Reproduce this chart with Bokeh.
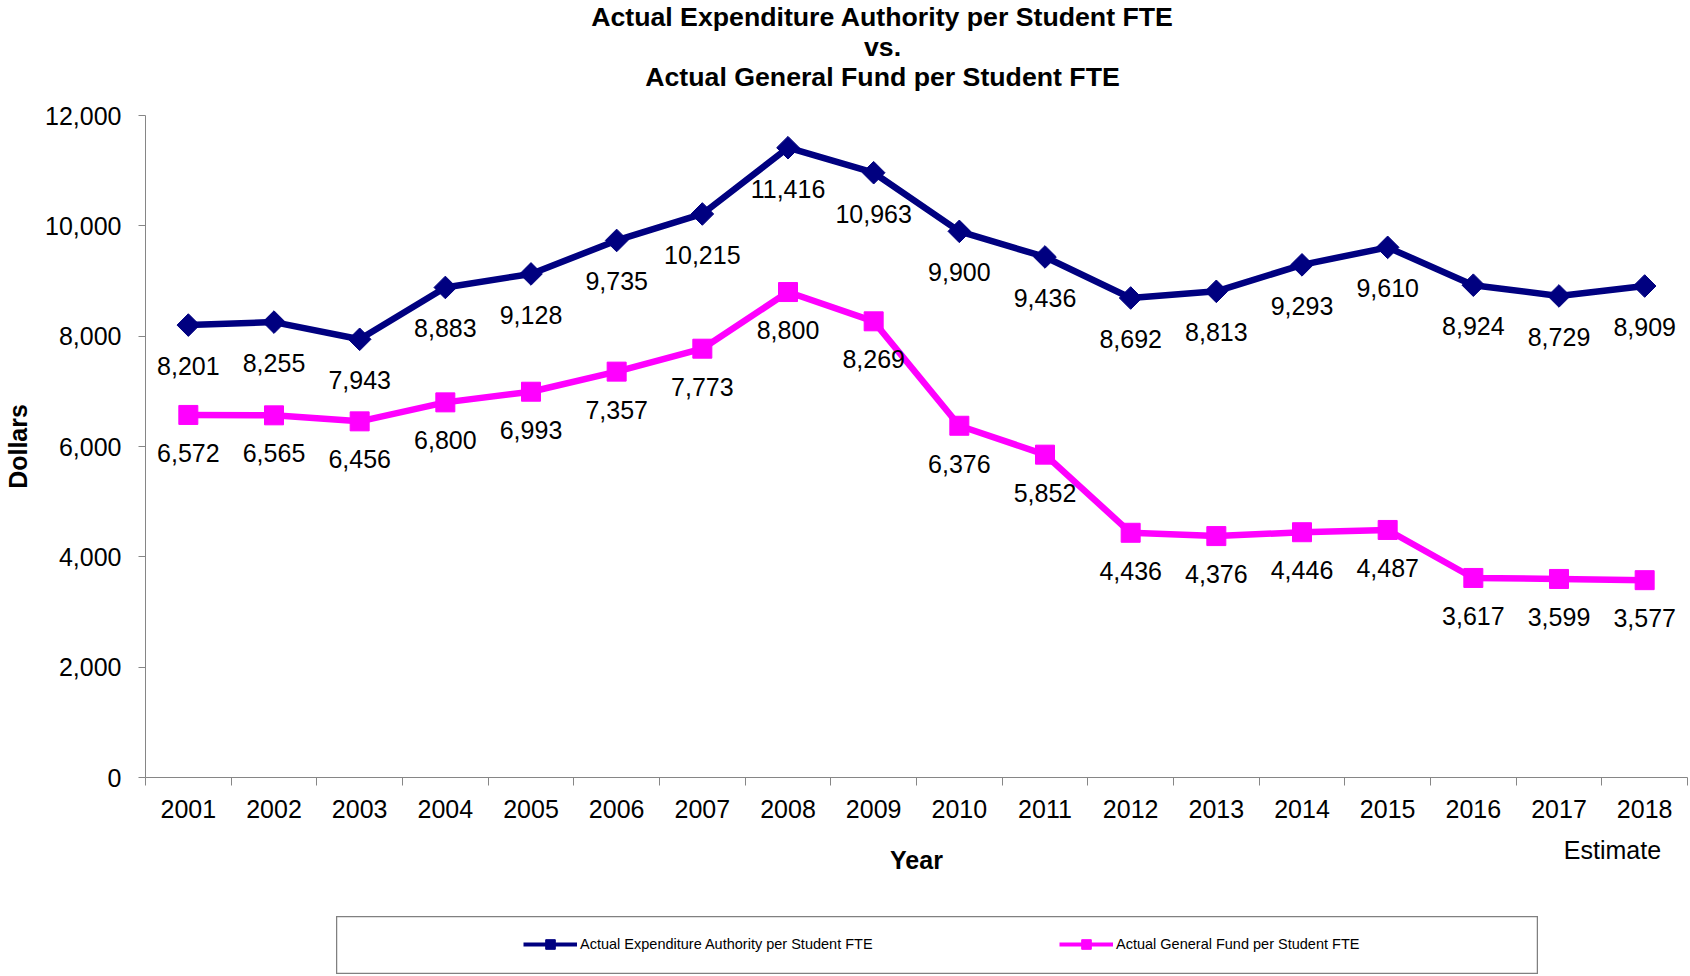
import numpy as np
from bokeh.plotting import figure
from bokeh.models import (ColumnDataSource, Range1d, FixedTicker, NumeralTickFormatter,
                          Legend, LegendItem, Spacer, LinearAxis)
from bokeh.layouts import column, row
from bokeh.core.properties import value
from bokeh.embed import file_html
from bokeh.resources import INLINE

years = [2001, 2002, 2003, 2004, 2005, 2006, 2007, 2008, 2009,
         2010, 2011, 2012, 2013, 2014, 2015, 2016, 2017, 2018]
expenditure = [8201, 8255, 7943, 8883, 9128, 9735, 10215, 11416, 10963,
               9900, 9436, 8692, 8813, 9293, 9610, 8924, 8729, 8909]
general_fund = [6572, 6565, 6456, 6800, 6993, 7357, 7773, 8800, 8269,
                6376, 5852, 4436, 4376, 4446, 4487, 3617, 3599, 3577]
y_ticks = [0, 2000, 4000, 6000, 8000, 10000, 12000]
title_lines = ["Actual Expenditure Authority per Student FTE", "vs.",
               "Actual General Fund per Student FTE"]
series_names = ["Actual Expenditure Authority per Student FTE",
                "Actual General Fund per Student FTE"]
estimate_note = "Estimate"

FONT = "Liberation Sans"
NAVY = "#000080"
MAGENTA = "#FF00FF"
AXIS = "#868686"
W = 1688
HDR_H = 100

src1 = ColumnDataSource(dict(x=years, y=expenditure, lab=[f"{v:,}" for v in expenditure]))
src2 = ColumnDataSource(dict(x=years, y=general_fund, lab=[f"{v:,}" for v in general_fund]))

# ---- header (title) strip: a pixel-scaled figure with no axes
hdr = figure(width=W - 1, height=HDR_H, output_backend="svg", toolbar_location=None,
             x_range=Range1d(1, W), y_range=Range1d(HDR_H, 0),
             x_axis_type=None, y_axis_type=None, min_border=0, title=None)
hdr.grid.visible = False
hdr.outline_line_color = None
hdr.text(x=[882] * len(title_lines), y=[16.2 + 30.2 * i for i in range(len(title_lines))],
         text=title_lines, text_align="center", text_baseline="middle",
         text_font=value(FONT), text_font_size="26.7px", text_font_style="bold",
         text_color="black")

# ---- main chart
p = figure(width=W, height=916 - HDR_H, output_backend="svg", toolbar_location=None,
           x_range=Range1d(years[0] - 0.5, years[-1] + 0.5),
           y_range=Range1d(y_ticks[0], y_ticks[-1]),
           min_border_left=145, min_border_top=15, min_border_bottom=139,
           min_border_right=1, title=None)
p.outline_line_color = None
p.grid.visible = False
p.background_fill_color = "white"
p.border_fill_color = "white"

# y axis
ya = p.yaxis[0]
ya.ticker = FixedTicker(ticks=y_ticks)
ya.formatter = NumeralTickFormatter(format="0,0")
ya.axis_line_color = AXIS
ya.major_tick_line_color = AXIS
ya.major_tick_out = 7
ya.major_tick_in = 0
ya.minor_tick_line_color = None
ya.major_label_standoff = 17
ya.major_label_text_font = FONT
ya.major_label_text_font_size = "25px"
ya.major_label_text_color = "black"
ya.axis_label = "Dollars"
ya.axis_label_text_font = FONT
ya.axis_label_text_font_size = "25px"
ya.axis_label_text_font_style = "bold"
ya.axis_label_text_color = "black"
ya.axis_label_standoff = 10

# x axis: labels at category centres, ticks between categories
xa = p.xaxis[0]
xa.ticker = FixedTicker(ticks=years, minor_ticks=[y - 0.5 for y in years] + [years[-1] + 0.5])
xa.axis_line_color = AXIS
xa.major_tick_line_color = None
xa.major_tick_out = 0
xa.major_tick_in = 0
xa.minor_tick_line_color = AXIS
xa.minor_tick_out = 8
xa.minor_tick_in = 0
xa.major_label_standoff = 14
xa.major_label_text_font = FONT
xa.major_label_text_font_size = "25px"
xa.major_label_text_color = "black"

# second (invisible) axis below carrying the "Estimate" note and the "Year" title,
# on a slightly shifted range so the note sits where the reference has it
est_shift = 0.376
p.extra_x_ranges = {"est": Range1d(years[0] - 0.5 + est_shift, years[-1] + 0.5 + est_shift)}
xb = LinearAxis(x_range_name="est", ticker=FixedTicker(ticks=[years[-1]], minor_ticks=[]),
                major_label_overrides={years[-1]: estimate_note})
xb.axis_line_color = None
xb.major_tick_line_color = None
xb.minor_tick_line_color = None
xb.major_tick_out = 0
xb.major_tick_in = 0
xb.major_label_standoff = 15
xb.major_label_text_font = FONT
xb.major_label_text_font_size = "25px"
xb.major_label_text_color = "black"
xb.axis_label = "Year"
xb.axis_label_text_font = FONT
xb.axis_label_text_font_size = "25px"
xb.axis_label_text_font_style = "bold"
xb.axis_label_text_color = "black"
xb.axis_label_standoff = -21
p.add_layout(xb, "below")

# series
p.line("x", "y", source=src1, line_color=NAVY, line_width=6.5)
p.scatter("x", "y", source=src1, marker="square", angle=np.pi / 4, size=16,
          fill_color=NAVY, line_color=NAVY)
p.line("x", "y", source=src2, line_color=MAGENTA, line_width=6.5)
p.scatter("x", "y", source=src2, marker="square", size=19,
          fill_color=MAGENTA, line_color=MAGENTA)

for s, off in ((src1, 41), (src2, 38)):
    p.text("x", "y", text="lab", source=s, text_align="center", text_baseline="middle",
           y_offset=off, text_font=value(FONT), text_font_size="25px", text_color="black")

# ---- legend box as a separate small figure
lf = figure(width=1202, height=58, output_backend="svg", toolbar_location=None,
            x_axis_type=None, y_axis_type=None,
            x_range=Range1d(0, 1), y_range=Range1d(0, 1), min_border=0)
lf.grid.visible = False
lf.outline_line_color = "#808080"
lf.outline_line_width = 1.5
lr1 = lf.line("x", "y", source=src1, line_color=NAVY, line_width=4)
ls1 = lf.scatter("x", "y", source=src1, marker="square", angle=np.pi / 4, size=10,
                 fill_color=NAVY, line_color=NAVY)
lr2 = lf.line("x", "y", source=src2, line_color=MAGENTA, line_width=4)
ls2 = lf.scatter("x", "y", source=src2, marker="square", size=10,
                 fill_color=MAGENTA, line_color=MAGENTA)
leg = Legend(items=[LegendItem(label=series_names[0], renderers=[lr1, ls1]),
                    LegendItem(label=series_names[1], renderers=[lr2, ls2])],
             orientation="horizontal", location=(187, 18),
             glyph_width=54, glyph_height=24, label_height=24, label_width=479,
             label_standoff=3, padding=0, margin=0, spacing=0,
             border_line_color=None, background_fill_alpha=0,
             label_text_font=FONT, label_text_font_size="14.5px", label_text_color="black")
lf.add_layout(leg)

layout = column(row(Spacer(width=1), hdr), p, row(Spacer(width=336), lf))

with open("out.html", "w") as f:
    f.write(file_html(layout, INLINE))
